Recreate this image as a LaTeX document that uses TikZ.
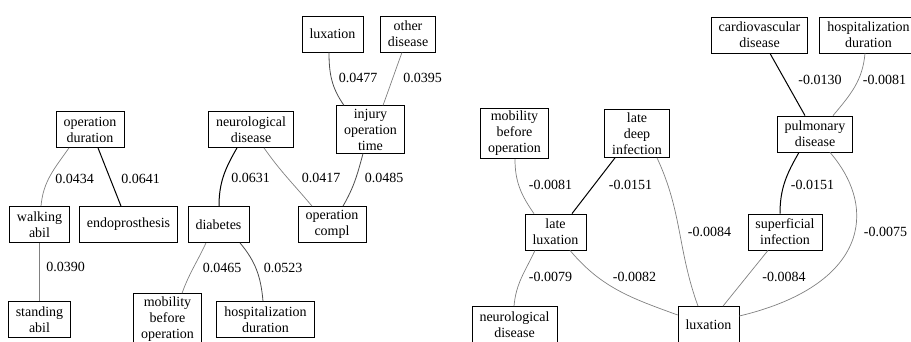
\documentclass[tikz,border=0pt]{standalone}
\usepackage{fontspec}
\setmainfont{Liberation Serif}

\begin{document}
\begin{tikzpicture}[x=1pt,y=1pt,
    main node/.style={rectangle,draw,line width=0.8pt,align=center,minimum width=54pt,minimum height=36pt,inner xsep=7.5pt,inner ysep=3pt,font=\fontsize{14}{16}\selectfont},
    weight label/.style={inner sep=0pt,font=\fontsize{14}{16}\selectfont},
    strong edge/.style={draw=black,line width=1pt},
    medium edge/.style={draw=black!70,line width=0.8pt},
    weak edge/.style={draw=black!50,line width=0.7pt}]
    \clip (0,0) rectangle (911,341);

    % left graph
    \node[main node] (opdur) at (90,211.5) {operation\\duration};
    \node[main node] (walk) at (39.5,116.5) {walking\\abil};
    \node[main node] (endo) at (128.5,116.5) {endoprosthesis};
    \node[main node] (stand) at (39.5,21.5) {standing\\abil};
    \node[main node] (neuroL) at (251,211.5) {neurological\\disease};
    \node[main node] (diab) at (218.5,116.5) {diabetes};
    \node[main node] (compl) at (332,116.5) {operation\\compl};
    \node[main node] (injury) at (370.5,211.5) {injury\\operation\\time};
    \node[main node] (luxL) at (332.5,307) {luxation};
    \node[main node] (other) at (408,307) {other\\disease};
    \node[main node] (mobL) at (167.5,22) {mobility\\before\\operation};
    \node[main node] (hospL) at (265.5,21.5) {hospitalization\\duration};

    \path
        ([xshift=-21pt]opdur.south) edge[weak edge,out=-125,in=85] ([xshift=1.5pt]walk.north)
        ([xshift=8pt]opdur.south) edge[strong edge] ([xshift=-7.5pt]endo.north)
        (walk) edge[weak edge] (stand)
        ([xshift=-14pt]neuroL.south) edge[strong edge,out=-120,in=90] ([xshift=0.5pt]diab.north)
        ([xshift=13pt]neuroL.south) edge[weak edge,out=-55,in=130] ([xshift=-20pt]compl.north)
        ([xshift=-7.5pt]injury.south) edge[medium edge,out=-105,in=60] ([xshift=11pt]compl.north)
        ([xshift=-3.5pt]luxL.south) edge[medium edge,out=-90,in=125] ([xshift=-26.5pt]injury.north)
        ([xshift=-6pt]other.south) edge[weak edge,out=-110,in=70] ([xshift=12.5pt]injury.north)
        ([xshift=-12.5pt]diab.south) edge[weak edge,out=-115,in=70] ([xshift=14.5pt]mobL.north)
        ([xshift=21.5pt]diab.south) edge[medium edge,out=-50,in=95] ([xshift=-2.5pt]hospL.north)
        ;

    \node[weight label] (l1) at (74.5,162) {0.0434};
    \node[weight label] (l2) at (140.5,162) {0.0641};
    \node[weight label] (l3) at (65.5,74) {0.0390};
    \node[weight label] (l4) at (250.5,163) {0.0631};
    \node[weight label] (l5) at (321,163) {0.0417};
    \node[weight label] (l6) at (384,163) {0.0485};
    \node[weight label] (l7) at (358,263) {0.0477};
    \node[weight label] (l8) at (422.5,263) {0.0395};
    \node[weight label] (l9) at (222,73) {0.0465};
    \node[weight label] (l10) at (283,73) {0.0523};

    % right graph
    \node[main node] (mobR) at (514.5,207.5) {mobility\\before\\operation};
    \node[main node] (ldi) at (637,207.5) {late\\deep\\infection};
    \node[main node] (lluxR) at (555.5,109) {late\\luxation};
    \node[main node] (neuroR) at (514.5,16.5) {neurological\\disease};
    \node[main node] (luxR) at (708.5,16.5) {luxation};
    \node[main node] (cardio) at (759.5,306) {cardiovascular\\disease};
    \node[main node] (hospR) at (868.5,306) {hospitalization\\duration};
    \node[main node] (pulm) at (815,207) {pulmonary\\disease};
    \node[main node] (superf) at (785,109) {superficial\\infection};

    \path
        ([xshift=0.5pt]mobR.south) edge[weak edge,out=-90,in=125] ([xshift=-21.5pt]lluxR.north)
        ([xshift=-22pt]ldi.south) edge[strong edge] ([xshift=16.5pt]lluxR.north)
        ([xshift=20pt]ldi.south) edge[weak edge,out=-65,in=110] ([xshift=-10.5pt]luxR.north)
        ([xshift=-20.5pt]lluxR.south) edge[weak edge,out=-115,in=85] ([xshift=-0.5pt]neuroR.north)
        ([xshift=14.5pt]lluxR.south) edge[weak edge,out=-50,in=160] ([yshift=9.5pt]luxR.west)
        ([xshift=10.5pt]cardio.south) edge[strong edge] ([xshift=-10pt]pulm.north)
        ([xshift=-3.5pt]hospR.south) edge[weak edge,out=-95,in=50] ([xshift=18pt]pulm.north)
        ([xshift=-16pt]pulm.south) edge[strong edge,out=-120,in=90] ([xshift=-5pt]superf.north)
        ([xshift=-17pt]superf.south) edge[weak edge] ([xshift=14.5pt]luxR.north)
        ;
    \draw[weak edge] ([xshift=15pt]pulm.south) .. controls +(50,-58) and +(126,30) .. ([yshift=8.5pt]luxR.east);

    \node[weight label] (r1) at (550.5,156) {-0.0081};
    \node[weight label] (r2) at (630.5,156) {-0.0151};
    \node[weight label] (r3) at (550.5,64) {-0.0079};
    \node[weight label] (r4) at (634.5,64) {-0.0082};
    \node[weight label] (r5) at (709.5,109) {-0.0084};
    \node[weight label] (r6) at (820,261) {-0.0130};
    \node[weight label] (r7) at (884.5,261) {-0.0081};
    \node[weight label] (r8) at (812.5,156) {-0.0151};
    \node[weight label] (r9) at (885.5,109) {-0.0075};
    \node[weight label] (r10) at (784,64) {-0.0084};
\end{tikzpicture}
\end{document}
